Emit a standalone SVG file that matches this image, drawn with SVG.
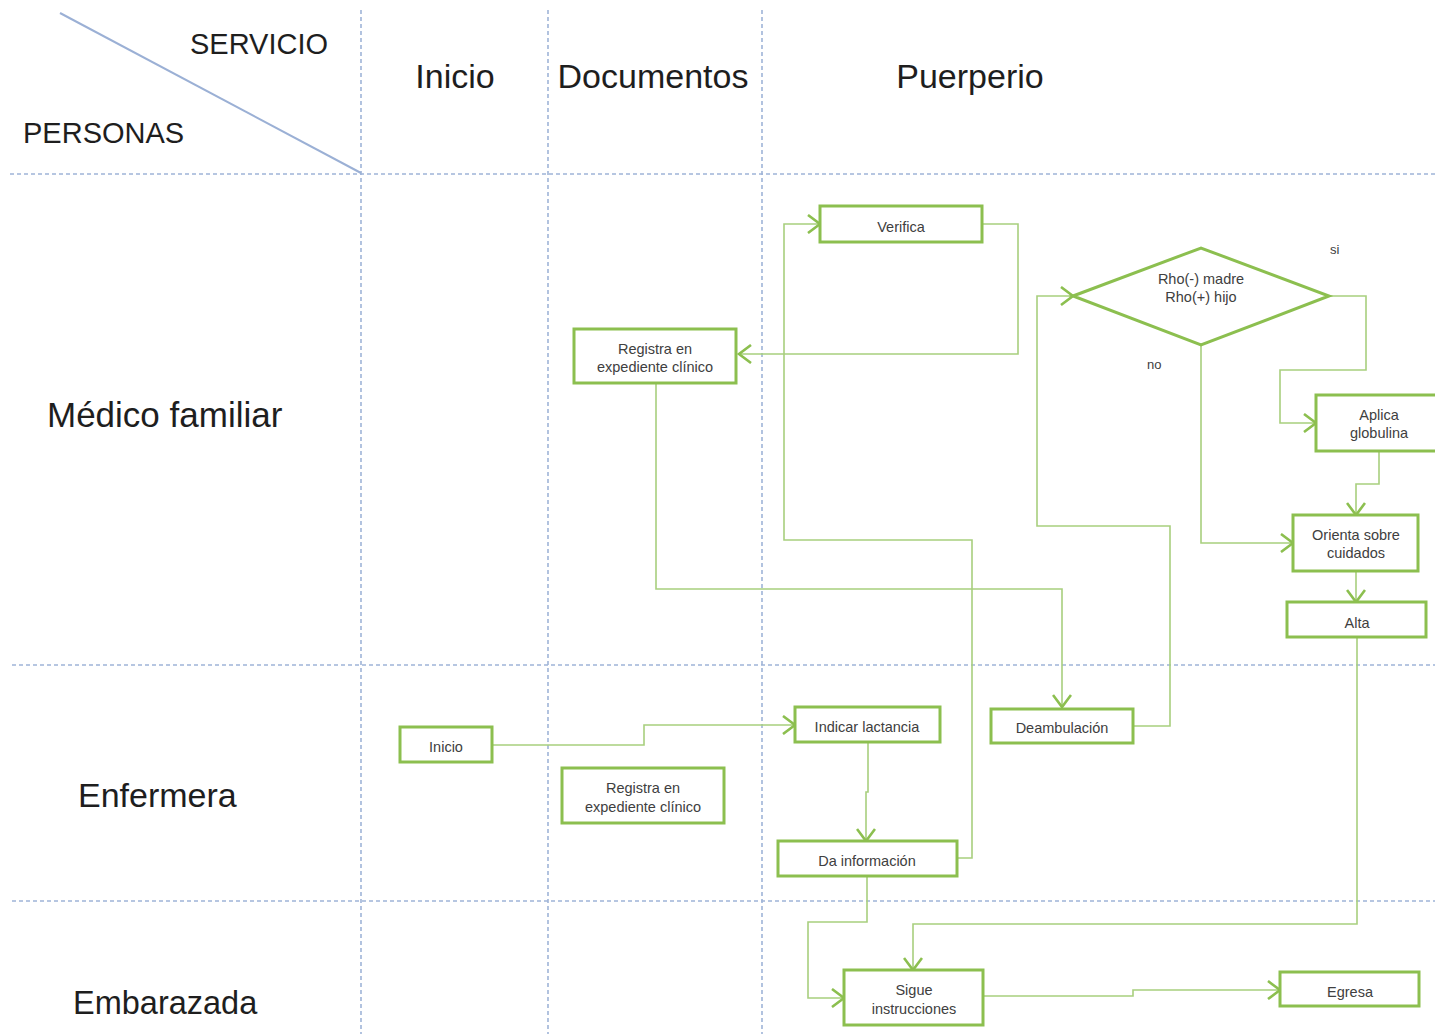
<svg xmlns="http://www.w3.org/2000/svg" width="1435" height="1034" viewBox="0 0 1435 1034">
  <style>
    .grid { stroke: #9fb4d8; stroke-width: 1.6; stroke-dasharray: 4 3; fill: none; }
    .head { font-family: "Liberation Sans", Arial, sans-serif; font-size: 34px; fill: #1e1e1e; }
    .corner { font-family: "Liberation Sans", Arial, sans-serif; font-size: 29px; fill: #1e1e1e; }
    .lane { font-family: "Liberation Sans", Arial, sans-serif; font-size: 34px; fill: #1e1e1e; }
    .box { fill: #ffffff; stroke: #8cbf4f; stroke-width: 3; }
    .lbl { font-family: "Liberation Sans", Arial, sans-serif; font-size: 14.5px; fill: #404040; text-anchor: middle; }
    .note { font-family: "Liberation Sans", Arial, sans-serif; font-size: 13px; fill: #404040; }
    .conn { fill: none; stroke: #a8cf7e; stroke-width: 1.6; marker-end: url(#chev); }
  </style>
  <defs>
    <marker id="chev" markerUnits="userSpaceOnUse" markerWidth="20" markerHeight="20" refX="14" refY="10" orient="auto">
      <path d="M2,1 L14,10 L2,19" fill="none" stroke="#8cbf4f" stroke-width="2.6"/>
    </marker>
  </defs>

  <rect width="1435" height="1034" fill="#ffffff"/>

  <!-- swimlane grid -->
  <g id="grid">
    <line class="grid" x1="361" y1="10" x2="361" y2="1034"/>
    <line class="grid" x1="548" y1="10" x2="548" y2="1034"/>
    <line class="grid" x1="762" y1="10" x2="762" y2="1034"/>
    <line class="grid" x1="10" y1="174" x2="1435" y2="174"/>
    <line class="grid" x1="12" y1="665" x2="1435" y2="665"/>
    <line class="grid" x1="12" y1="901" x2="1435" y2="901"/>
    <line x1="60" y1="13" x2="361" y2="173" stroke="#9bb0d5" stroke-width="2"/>
  </g>

  <!-- headers -->
  <g id="headers">
    <text class="corner" x="190" y="54">SERVICIO</text>
    <text class="corner" x="23" y="143">PERSONAS</text>
    <text class="head" x="455" y="88" text-anchor="middle">Inicio</text>
    <text class="head" x="653" y="88" text-anchor="middle">Documentos</text>
    <text class="head" x="970" y="88" text-anchor="middle">Puerperio</text>
    <text class="lane" x="47" y="427" style="font-size:35px">Médico familiar</text>
    <text class="lane" x="78" y="807">Enfermera</text>
    <text class="lane" x="73" y="1014" style="font-size:32.5px">Embarazada</text>
  </g>

  <!-- connectors -->
  <g id="connectors">
    <path class="conn" d="M982,224 H1018 V354 H739"/>
    <path class="conn" d="M656,383 V589 H1062 V707"/>
    <path class="conn" d="M1133,726 H1170 V526 H1037 V296 H1073"/>
    <path class="conn" d="M1329,296 H1366 V370 H1280 V423 H1316"/>
    <path class="conn" d="M1201,345 V543 H1293"/>
    <path class="conn" d="M1379,451 V484 H1356 V515"/>
    <path class="conn" d="M1356,571 V602"/>
    <path class="conn" d="M1357,637 V924 H913 V970"/>
    <path class="conn" d="M492,745 H644 V725 H795"/>
    <path class="conn" d="M868,742 V792 H866 V841"/>
    <path class="conn" d="M957,858 H972 V540 H784 V224 H820"/>
    <path class="conn" d="M867,876 V922 H808 V998 H844"/>
    <path class="conn" d="M983,996 H1133 V990 H1280"/>
    <text class="note" x="1330" y="254">si</text>
    <text class="note" x="1147" y="369">no</text>
  </g>

  <!-- nodes -->
  <g id="verifica">
    <rect class="box" x="820" y="206" width="162" height="36"/>
    <text class="lbl" x="901" y="232">Verifica</text>
  </g>
  <g id="rho">
    <polygon class="box" points="1073,296 1201,248 1329,296 1201,345"/>
    <text class="lbl" x="1201" y="284">Rho(-) madre</text>
    <text class="lbl" x="1201" y="302">Rho(+) hijo</text>
  </g>
  <g id="registra-medico">
    <rect class="box" x="574" y="329" width="162" height="54"/>
    <text class="lbl" x="655" y="354">Registra en</text>
    <text class="lbl" x="655" y="372">expediente clínico</text>
  </g>
  <g id="aplica">
    <rect class="box" x="1316" y="395" width="124" height="56"/>
    <text class="lbl" x="1379" y="420">Aplica</text>
    <text class="lbl" x="1379" y="438">globulina</text>
  </g>
  <g id="orienta">
    <rect class="box" x="1293" y="515" width="125" height="56"/>
    <text class="lbl" x="1356" y="540">Orienta sobre</text>
    <text class="lbl" x="1356" y="558">cuidados</text>
  </g>
  <g id="alta">
    <rect class="box" x="1287" y="602" width="139" height="35"/>
    <text class="lbl" x="1357" y="628">Alta</text>
  </g>
  <g id="inicio">
    <rect class="box" x="400" y="727" width="92" height="35"/>
    <text class="lbl" x="446" y="752">Inicio</text>
  </g>
  <g id="lactancia">
    <rect class="box" x="795" y="707" width="145" height="35"/>
    <text class="lbl" x="867" y="732">Indicar lactancia</text>
  </g>
  <g id="deambulacion">
    <rect class="box" x="991" y="709" width="142" height="34"/>
    <text class="lbl" x="1062" y="733">Deambulación</text>
  </g>
  <g id="registra-enfermera">
    <rect class="box" x="562" y="768" width="162" height="55"/>
    <text class="lbl" x="643" y="793">Registra en</text>
    <text class="lbl" x="643" y="812">expediente clínico</text>
  </g>
  <g id="informacion">
    <rect class="box" x="778" y="841" width="179" height="35"/>
    <text class="lbl" x="867" y="866">Da información</text>
  </g>
  <g id="sigue">
    <rect class="box" x="844" y="970" width="139" height="55"/>
    <text class="lbl" x="914" y="995">Sigue</text>
    <text class="lbl" x="914" y="1014">instrucciones</text>
  </g>
  <g id="egresa">
    <rect class="box" x="1280" y="972" width="139" height="34"/>
    <text class="lbl" x="1350" y="997">Egresa</text>
  </g>
</svg>
